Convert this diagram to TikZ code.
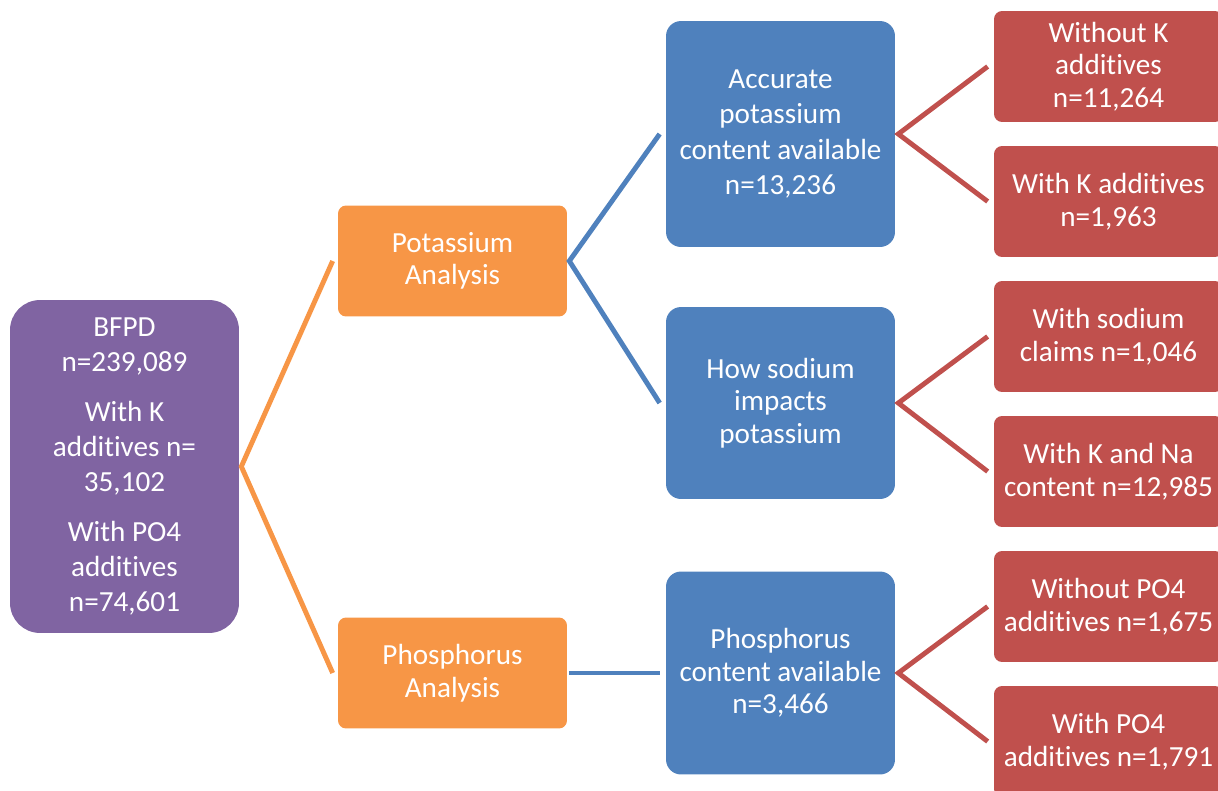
\documentclass[tikz,border=0pt]{standalone}
\usepackage{fontspec}
\setmainfont{Carlito}[Ligatures={NoCommon,NoContextual,NoRequired},Contextuals=NoAlternate]
\definecolor{roxoBase}{RGB}{128,100,162}
\definecolor{laranjaBase}{RGB}{247,150,70}
\definecolor{azulBase}{RGB}{79,129,189}
\definecolor{vermelhoBase}{RGB}{192,80,77}
\usetikzlibrary{calc}
\tikzset{
  caixa/.style={rectangle, text=white, align=center, inner sep=2pt,
                minimum width=4.58cm, font=\fontsize{16.6}{18.5}\selectfont},
  raiz/.style={caixa, fill=roxoBase, rounded corners=0.6cm, minimum height=6.66cm,
               font=\fontsize{16.6}{20}\selectfont},
  analise/.style={caixa, fill=laranjaBase, rounded corners=0.16cm, minimum height=2.22cm},
  conteudo/.style={caixa, fill=azulBase, rounded corners=0.3cm},
  subgrupo/.style={caixa, fill=vermelhoBase, rounded corners=0.16cm, minimum height=2.22cm},
  ramo/.style={line width=2.8pt},
}

\begin{document}
\begin{tikzpicture}[x=0.02cm, y=-0.02cm]
  \useasboundingbox (0,0) rectangle (1218,791);
  \clip (0,0) rectangle (1218,791);
  % raiz
  \node[raiz] (bfpd) at (124.5,466.5)
       {BFPD\\n=239,089\\[0.3cm]With K\\additives n=\\35,102\\[0.3cm]With PO4\\additives\\n=74,601};
  % analises
  \node[analise] (pot) at (452.5,261) {Potassium\\Analysis};
  \node[analise] (phos) at (452.5,673) {Phosphorus\\Analysis};
  % conteudo
  \node[conteudo, minimum height=4.52cm, font=\fontsize{16.6}{20}\selectfont] (acc) at (780.5,134)
       {Accurate\\potassium\\content available\\n=13,236};
  \node[conteudo, minimum height=3.84cm] (sod) at (780.5,403) {How sodium\\impacts\\potassium};
  \node[conteudo, minimum height=4.06cm] (phc) at (780.5,673)
       {Phosphorus\\content available\\n=3,466};
  % subgrupos
  \node[subgrupo] (semK) at (1108.5,66.5) {Without K\\additives\\n=11,264};
  \node[subgrupo] (comK) at (1108.5,201.5) {With K additives\\n=1,963};
  \node[subgrupo] (comNa) at (1108.5,336.5) {With sodium\\claims n=1,046};
  \node[subgrupo] (kNa) at (1108.5,471.5) {With K and Na\\content n=12,985};
  \node[subgrupo] (semPO) at (1108.5,606.5) {Without PO4\\additives n=1,675};
  \node[subgrupo] (comPO) at (1108.5,741.5) {With PO4\\additives n=1,791};
  % ramos
  \draw[ramo, laranjaBase] ($(pot.west)+(-5,0)$) -- ($(bfpd.east)+(2,0)$) -- ($(phos.west)+(-5,0)$);
  \draw[ramo, azulBase] ($(acc.west)+(-6,0)$) -- ($(pot.east)+(2,0)$) -- ($(sod.west)+(-6,0)$);
  \draw[ramo, azulBase] ($(phos.east)+(2,0)$) -- ($(phc.west)+(-6,0)$);
  \draw[ramo, vermelhoBase] ($(semK.west)+(-6,0)$) -- ($(acc.east)+(3,0)$) -- ($(comK.west)+(-6,0)$);
  \draw[ramo, vermelhoBase] ($(comNa.west)+(-6,0)$) -- ($(sod.east)+(3,0)$) -- ($(kNa.west)+(-6,0)$);
  \draw[ramo, vermelhoBase] ($(semPO.west)+(-6,0)$) -- ($(phc.east)+(3,0)$) -- ($(comPO.west)+(-6,0)$);
\end{tikzpicture}
\end{document}
